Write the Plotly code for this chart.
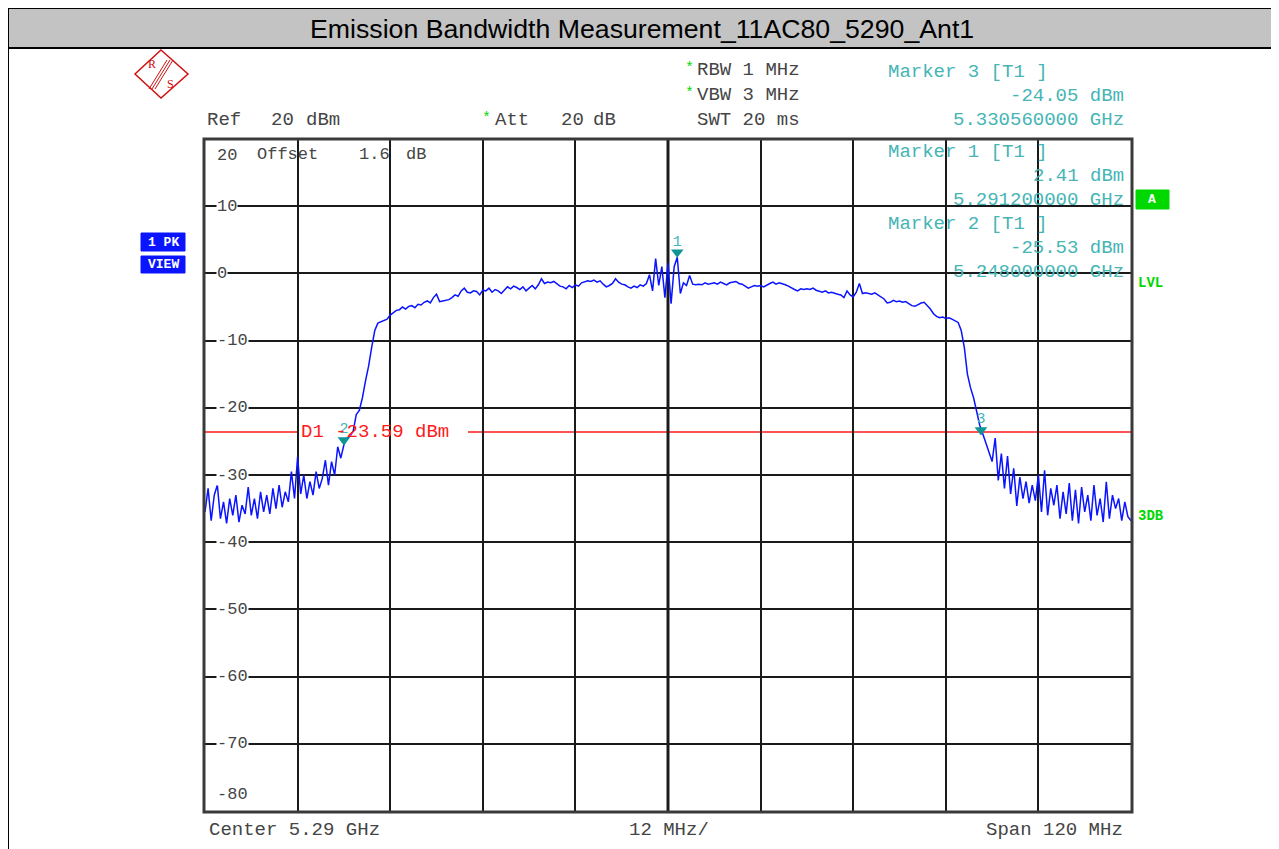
import plotly.graph_objects as go

# ---------------- data ----------------
title_text = "Emission Bandwidth Measurement_11AC80_5290_Ant1"
start_ghz = 5.23
stop_ghz = 5.35
center_label = "Center 5.29 GHz"
div_label = "12 MHz/"
span_label = "Span 120 MHz"
ref_level_dbm = 20
bottom_level_dbm = -80
d1_level_dbm = -23.59

trace_dbm = [
    -35.5, -32.0, -36.8, -33.0, -31.5, -36.5, -34.0, -37.2, -33.5, -36.0,
    -33.0, -37.0, -34.5, -35.8, -31.8, -36.0, -33.5, -36.5, -32.5, -35.5,
    -33.0, -35.8, -32.0, -35.0, -31.5, -34.8, -32.5, -34.0, -29.5, -33.5,
    -27.3, -32.8, -30.0, -33.5, -31.0, -33.0, -29.5, -32.0, -30.5, -27.8,
    -31.5, -28.0, -30.0, -25.8, -27.5, -25.5, -24.5, -24.2, -23.5, -21.0,
    -20.4, -18.5, -16.0, -13.8, -11.0, -8.5, -7.4, -7.2, -7.1, -6.8,
    -6.2, -5.8, -5.5, -5.4, -5.0, -5.3, -4.9, -4.8, -5.1, -4.6,
    -4.7, -4.3, -4.1, -4.4, -3.6, -3.1, -4.2, -4.1, -4.0, -3.9,
    -3.6, -3.2, -3.4, -2.6, -2.2, -2.8, -2.9, -2.6, -2.7, -3.2,
    -2.5, -2.6, -2.2, -2.8, -2.4, -2.6, -3.0, -2.5, -2.0, -2.3,
    -1.9, -2.1, -2.4, -2.0, -2.6, -2.2, -1.8, -2.3, -1.7, -0.8,
    -1.5, -1.3, -1.4, -1.2, -1.6, -1.9, -2.0, -2.3, -1.8, -2.1,
    -1.7, -1.9, -1.4, -1.3, -1.1, -1.2, -1.0, -1.3, -1.1, -1.6,
    -2.0, -1.8, -1.5, -0.8, -1.3, -1.6, -1.7, -2.0, -2.2, -1.9,
    -2.1, -1.7, -1.9, -1.5, -0.2, -2.6, 2.2, -1.8, 1.0, -3.6,
    1.5, -4.5, 1.0, 2.41, -3.0, -1.4, -1.8, -0.3, -1.6, -1.7,
    -1.6, -1.7, -1.4, -1.6, -1.5, -1.4, -1.6, -1.3, -1.5, -1.7,
    -1.4, -1.3, -1.2, -1.5, -1.6, -1.9, -2.2, -2.0, -1.8, -1.9,
    -1.8, -2.0, -1.7, -1.5, -1.3, -1.6, -1.4, -1.5, -1.7, -1.9,
    -2.2, -2.4, -2.6, -2.3, -2.4, -2.3, -2.4, -2.2, -2.5, -2.6,
    -2.8, -2.6, -2.9, -2.8, -3.0, -3.1, -3.2, -3.6, -2.6, -3.2,
    -3.5, -2.8, -1.5, -3.0, -2.9, -3.0, -3.1, -2.9, -3.2, -3.4,
    -3.8, -4.4, -4.3, -4.0, -4.2, -4.1, -4.3, -4.2, -4.5, -4.8,
    -4.9, -4.6, -4.4, -4.3, -4.8, -5.3, -6.0, -6.4, -6.6, -6.5,
    -6.7, -6.6, -6.8, -7.0, -7.3, -8.5, -11.0, -15.0, -17.0, -18.5,
    -20.5, -22.6, -23.9, -25.2, -26.8, -28.0, -24.5, -30.8, -26.8, -32.0,
    -27.2, -32.8, -29.0, -34.6, -30.3, -33.5, -31.0, -34.2, -31.5, -33.8,
    -30.0, -35.5, -29.3, -36.0, -32.0, -34.5, -31.5, -36.5, -32.5, -35.8,
    -31.2, -36.8, -32.2, -37.2, -31.8, -35.5, -33.0, -36.8, -31.5, -36.0,
    -33.5, -37.0, -31.0, -36.5, -33.0, -35.0, -33.5, -36.8, -34.0, -36.2, -36.8,
]

marker_names = ["1", "2", "3"]
marker_freq_ghz = [5.2912, 5.248, 5.33056]
marker_level_dbm = [2.41, -25.53, -24.05]

y_tick_values = [20, 10, 0, -10, -20, -30, -40, -50, -60, -70, -80]
y_tick_labels = ["20", "10", "0", "-10", "-20", "-30", "-40", "-50", "-60", "-70", "-80"]

# sweep points
n_pts = len(trace_dbm)
step_ghz = (stop_ghz - start_ghz) / (n_pts - 1)
freq_ghz = [start_ghz + i * step_ghz for i in range(n_pts)]

# ---------------- layout helpers ----------------
# page is offset by the 8px body margin of the html page
OFF = 8
W, H = 1279 - OFF, 849 - OFF
ML, MT = 205 - OFF, 139 - OFF
MR = W - (1131 - OFF)
MB = H - (811 - OFF)
PW = W - ML - MR
PH = H - MT - MB


def px(x):
    return (x - OFF - ML) / PW


def py(y):
    return (H - MB - (y - OFF)) / PH


MONO = "Liberation Mono"
GRAY = "#454545"
TEAL = "#45b5b5"
TEAL_DARK = "#109595"
GREEN = "#00d800"
RED = "#ff1a1a"
BLUE = "#0a14ff"

annotations = []
shapes = []


def text(t, x, y, color=GRAY, size=19, anchor="left", bold=False, bg="rgba(0,0,0,0)",
         family=MONO, yref="paper", yval=None, yanchor="middle", yshift=0):
    annotations.append(dict(
        text=t, xref="paper", x=px(x),
        yref=yref, y=(py(y) if yval is None else yval),
        xanchor=anchor, yanchor=yanchor, yshift=yshift, showarrow=False,
        font=dict(family=family, size=size, color=color, weight=("bold" if bold else "normal")),
        bgcolor=bg, borderpad=0,
    ))


def rect(x0, y0, x1, y1, fill="rgba(0,0,0,0)", line="black", width=1, layer="above"):
    shapes.append(dict(type="rect", xref="paper", yref="paper",
                       x0=px(x0), x1=px(x1), y0=py(y0), y1=py(y1),
                       fillcolor=fill, line=dict(color=line, width=width), layer=layer))


def seg(x0, y0, x1, y1, color="black", width=1, layer="above"):
    shapes.append(dict(type="line", xref="paper", yref="paper",
                       x0=px(x0), x1=px(x1), y0=py(y0), y1=py(y1),
                       line=dict(color=color, width=width), layer=layer))


# ---------------- figure ----------------
fig = go.Figure()

fig.add_trace(go.Scatter(
    x=freq_ghz, y=trace_dbm, mode="lines",
    line=dict(color=BLUE, width=1.5), hoverinfo="skip", showlegend=False,
))

fig.add_trace(go.Scatter(
    x=marker_freq_ghz, y=marker_level_dbm, mode="markers+text",
    text=marker_names, textposition="top center",
    textfont=dict(family=MONO, size=15, color=TEAL),
    marker=dict(symbol="triangle-up", size=11, color=TEAL_DARK, angle=180, standoff=5),
    hoverinfo="skip", showlegend=False, cliponaxis=False,
))

# D1 display line, interrupted where its label sits
for x0, x1 in ((0, px(298)), (px(468), 1)):
    shapes.append(dict(type="line", xref="paper", yref="y", x0=x0, x1=x1,
                       y0=d1_level_dbm, y1=d1_level_dbm,
                       line=dict(color=RED, width=1.5), layer="below"))
text(f"D1 {d1_level_dbm:.2f} dBm", 300, 0, color=RED, yref="y", yval=d1_level_dbm)

# plot frame and centre line
rect(204, 139, 1132, 812, line="#3a3a3a", width=3)
shapes.append(dict(type="line", xref="x", yref="paper",
                   x0=(start_ghz + stop_ghz) / 2, x1=(start_ghz + stop_ghz) / 2,
                   y0=0, y1=1, line=dict(color="#202020", width=3), layer="below"))

# y tick labels inside the grid
for v, lab in zip(y_tick_values, y_tick_labels):
    if v == ref_level_dbm:
        text(lab, 216, 0, yref="y", yval=v, yanchor="top", yshift=-6, bg="white", size=17)
    elif v == bottom_level_dbm:
        text(lab, 216, 0, yref="y", yval=v, yanchor="bottom", yshift=6, bg="white", size=17)
    else:
        text(lab, 216, 0, yref="y", yval=v, bg="white", size=17)

text("Offset", 256, 154, size=17)
text("1.6", 358, 154, size=17)
text("dB", 405, 154, size=17)

# title bar and page frame
rect(8, 8, 1300, 48, fill="#c3c3c3", line="black", width=2, layer="below")
seg(8, 8, 8, 860, width=2)
text(title_text, 642, 29, color="black", size=26.7, anchor="center", family="Liberation Sans")

# header settings
text("*", 684, 68, color=GREEN, size=15)
text("RBW 1 MHz", 696, 70)
text("*", 684, 93, color=GREEN, size=15)
text("VBW 3 MHz", 696, 95)
text("SWT 20 ms", 696, 120)
text("Ref", 206, 120)
text("20", 270, 120)
text("dBm", 305, 120)
text("*", 481, 118, color=GREEN, size=15)
text("Att", 494, 120)
text("20", 560, 120)
text("dB", 592, 120)

# marker readouts (marker 3, 1, 2 order as on screen)
for idx, top in zip([2, 0, 1], [72, 152, 224]):
    text(f"Marker {marker_names[idx]} [T1 ]", 887, top, color=TEAL)
    text(f"{marker_level_dbm[idx]:.2f} dBm", 1125, top + 24, color=TEAL, anchor="right")
    text(f"{marker_freq_ghz[idx]:.9f} GHz", 1125, top + 48, color=TEAL, anchor="right")

# bottom labels
text(center_label, 208, 830)
text(div_label, 669, 830, anchor="center")
text(span_label, 1124, 830, anchor="right")

# side indicators
rect(141, 233, 185, 251, fill="#0a14ff", line="#0a14ff")
rect(141, 256, 185, 273, fill="#0a14ff", line="#0a14ff")
text("1 PK", 163, 242, color="white", size=13, bold=True, anchor="center")
text("VIEW", 163, 264, color="white", size=13, bold=True, anchor="center")
rect(1136, 190, 1169, 209, fill=GREEN, line=GREEN)
text("A", 1152, 199, color="white", size=13, bold=True, anchor="center")
text("LVL", 1137, 283, color=GREEN, size=14, bold=True)
text("3DB", 1137, 516, color=GREEN, size=14, bold=True)

# R&S logo
LR = "#d01010"
shapes.append(dict(type="path", xref="paper", yref="paper",
                   path=f"M {px(161)} {py(50)} L {px(188)} {py(74)} L {px(161)} {py(98)} L {px(135)} {py(74)} Z",
                   line=dict(color=LR, width=1.5)))
for d in (-3, 0, 3):
    seg(170 + d, 60, 152 + d, 89, color=LR, width=1)
text("R", 152, 64, color=LR, size=12, anchor="center", family="Liberation Serif")
text("S", 170, 84, color=LR, size=12, anchor="center", family="Liberation Serif")

fig.update_layout(
    width=W, height=H,
    margin=dict(l=ML, r=MR, t=MT, b=MB),
    paper_bgcolor="white", plot_bgcolor="white",
    xaxis=dict(range=[start_ghz, stop_ghz], tick0=start_ghz, dtick=(stop_ghz - start_ghz) / 10,
               showgrid=True, gridcolor="#1a1a1a", gridwidth=1.5,
               showticklabels=False, ticks="", zeroline=False, showline=False),
    yaxis=dict(range=[bottom_level_dbm, ref_level_dbm], tick0=bottom_level_dbm, dtick=10,
               showgrid=True, gridcolor="#1a1a1a", gridwidth=1.5,
               showticklabels=False, ticks="", zeroline=False, showline=False),
    annotations=annotations,
    shapes=shapes,
    showlegend=False,
)

fig.write_html("out.html")
